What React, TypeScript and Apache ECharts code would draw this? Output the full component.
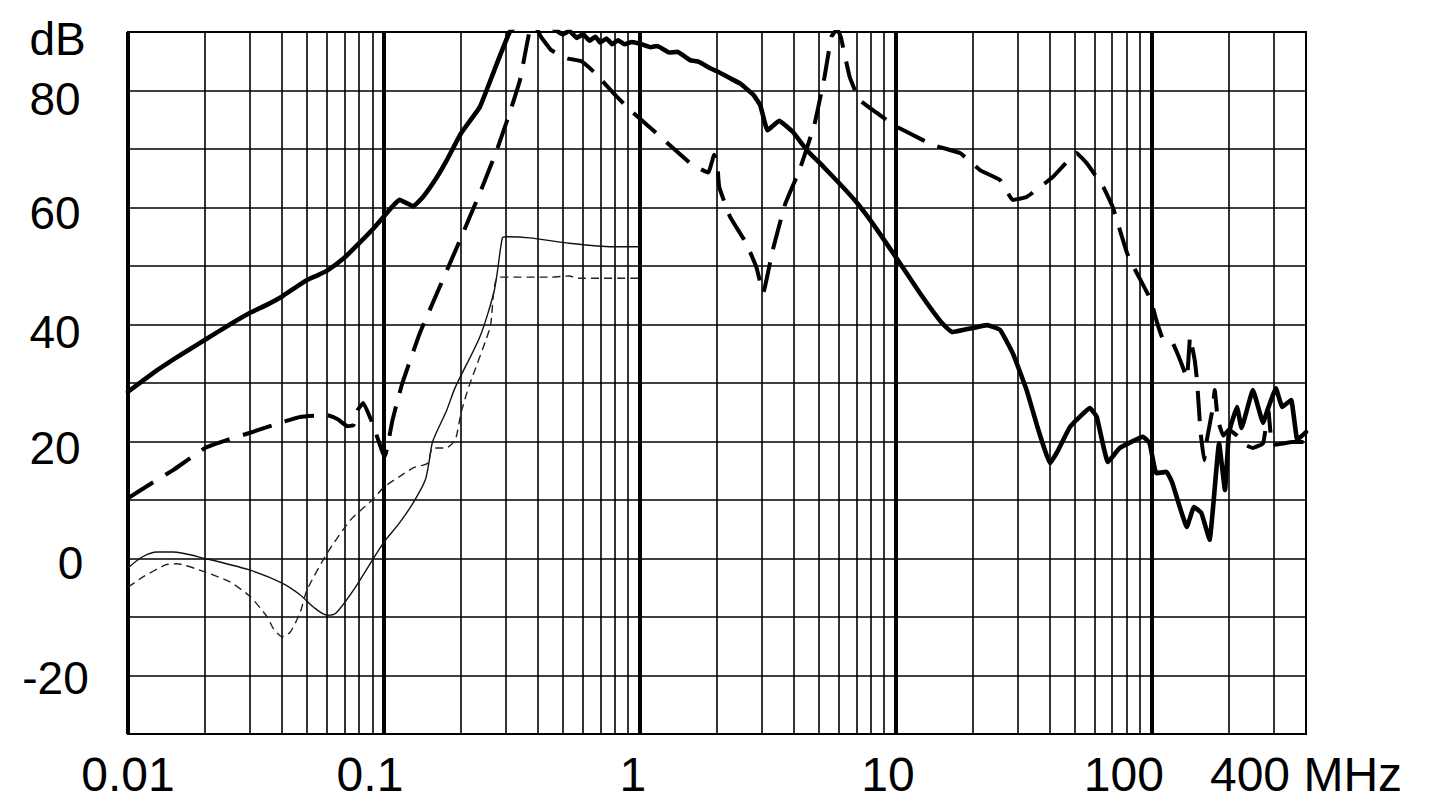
import { useEffect, useRef } from 'react';
import * as echarts from 'echarts';

// ---------- data ----------
const xTickValues = [0.01, 0.1, 1, 10, 100, 400];
const xTickLabels = ['0.01', '0.1', '1', '10', '100', '400 MHz'];

const yTickValues = [90, 80, 60, 40, 20, 0, -20];
const yTickLabels = ['dB', '80', '60', '40', '20', '0', '-20'];

const decadeLinesX = [0.01, 0.1, 1, 10, 100];
const minorLinesX = [
  0.02, 0.03, 0.04, 0.05, 0.06, 0.07, 0.08, 0.09,
  0.2, 0.3, 0.4, 0.5, 0.6, 0.7, 0.8, 0.9,
  2, 3, 4, 5, 6, 7, 8, 9,
  20, 30, 40, 50, 60, 70, 80, 90,
  200, 300,
];

const thickSolid: [number, number][] = [
  [0.01, 28.5], [0.0115, 30.5], [0.013, 32.2], [0.015, 34], [0.0175, 35.8],
  [0.02, 37.4], [0.025, 40], [0.03, 42], [0.035, 43.4], [0.04, 44.8],
  [0.045, 46.3], [0.05, 47.6], [0.055, 48.4], [0.06, 49.2], [0.07, 51.4],
  [0.08, 53.9], [0.09, 56.2], [0.1, 58.5], [0.108, 60.2], [0.115, 61.3],
  [0.122, 60.8], [0.13, 60.2], [0.142, 61.8], [0.16, 65], [0.176, 68.1],
  [0.2, 72.7], [0.237, 77.2], [0.27, 83.5], [0.31, 90], [0.35, 92],
  [0.42, 92], [0.47, 90.3], [0.5, 89.6], [0.53, 90.2], [0.567, 89],
  [0.6, 89.6], [0.635, 88.5], [0.67, 89.2], [0.7, 88.2], [0.74, 88.9],
  [0.78, 87.9], [0.82, 88.6], [0.87, 87.9], [0.93, 88.3], [1.0, 88],
  [1.1, 87.4], [1.17, 87.6], [1.3, 86.5], [1.4, 86.6], [1.57, 85.2],
  [1.7, 84.9], [1.88, 83.8], [2.0, 83.3], [2.25, 82.1], [2.46, 81.2],
  [2.77, 79.3], [2.95, 77.5], [3.15, 73.2], [3.5, 74.8], [3.96, 72.9],
  [4.49, 69.8], [5.2, 67], [6.2, 63.5], [7.04, 60.8], [8.2, 57],
  [10, 51.5], [12.4, 45.4], [15.1, 40.3], [16.6, 38.7], [20, 39.4],
  [22.7, 39.9], [25.5, 39.1], [28.6, 35.1], [32.4, 28.8], [36, 22],
  [40, 16.3], [43, 18.5], [47.9, 22.5], [57.3, 25.7], [60.9, 24.2],
  [67.3, 16.5], [75, 18.9], [92.3, 20.8], [98, 19.7], [104, 14.6],
  [114, 14.8], [120, 13], [137, 5.4], [146, 8.8], [156, 7.8],
  [168, 3.2], [183, 19.7], [193, 11.7], [200, 21.5], [215, 25.9],
  [224, 22.3], [248, 28.8], [272, 23.2], [283, 25.4], [305, 29.1],
  [323, 25.9], [350, 27.1], [370, 20.3], [400, 21.6],
];

const thickDashed: [number, number][] = [
  [0.01, 10.3], [0.0125, 13], [0.015, 15.1], [0.02, 18.9], [0.025, 20.4],
  [0.03, 21.5], [0.04, 23.3], [0.047, 24.2], [0.06, 24.5], [0.066, 23.8],
  [0.072, 22.6], [0.076, 22.8], [0.079, 25.4], [0.083, 26.6], [0.09, 23.2],
  [0.099, 18], [0.101, 17.5], [0.108, 23.7], [0.118, 30], [0.138, 38.5],
  [0.165, 46.4], [0.198, 54.4], [0.237, 62.5], [0.276, 69.8], [0.31, 76.2],
  [0.34, 81.8], [0.37, 90], [0.39, 91], [0.41, 89.2], [0.45, 86.9],
  [0.52, 85.5], [0.59, 85], [0.66, 83.2], [0.81, 79], [0.94, 76.2],
  [1.1, 73.6], [1.6, 67.3], [1.85, 66], [1.95, 69], [2.0, 68],
  [2.04, 63.5], [2.25, 58.4], [2.6, 53.9], [2.85, 49.8], [3.03, 45.4],
  [3.3, 52.7], [3.7, 60.7], [4.2, 66.4], [4.8, 74.1], [5.26, 82.3],
  [5.6, 89.2], [5.9, 90.5], [6.1, 89], [6.6, 82.3], [7.2, 78.4],
  [8.4, 76.2], [9.8, 74.1], [11.3, 72.7], [13.9, 70.7], [17.8, 69.3],
  [21.3, 66.4], [25.5, 64.7], [28.6, 61.3], [32.4, 61.8], [41, 65.2],
  [50.7, 69.3], [55.6, 67.6], [64.6, 63.5], [70.4, 60], [80, 52.2],
  [87.3, 48.8], [99, 44.2], [104, 40.8], [110, 37.7], [120, 37],
  [129, 33.9], [137, 30.9], [141, 37.9], [147, 33.9], [150, 30.5],
  [155, 21.5], [160, 16.8], [164, 20.3], [173, 25.8], [176, 28.8],
  [181, 23.7], [190, 21], [200, 22], [215, 21], [230, 19.5],
  [248, 18.9], [272, 19.7], [285, 25.4], [295, 19.4], [320, 19.6],
  [355, 19.9], [400, 19.9],
];

const thinSolid: [number, number][] = [
  [0.01, -1.6], [0.0114, 0.3], [0.013, 1.1], [0.015, 1.1], [0.02, 0],
  [0.03, -2], [0.04, -4.2], [0.047, -6.2], [0.053, -8.3], [0.06, -9.7],
  [0.065, -9.3], [0.076, -5.4], [0.09, -0.3], [0.1, 2.8], [0.115, 6.1],
  [0.13, 9.5], [0.145, 13.4], [0.15, 16.5], [0.155, 20], [0.176, 25.4],
  [0.19, 29.3], [0.237, 37.9], [0.27, 45.9], [0.29, 54.8], [0.3, 55],
  [0.37, 54.8], [0.53, 53.9], [0.78, 53.3], [1.0, 53.3],
];

const thinDashed: [number, number][] = [
  [0.01, -4.9], [0.0114, -3.2], [0.014, -1.1], [0.0155, -0.9], [0.02, -2.3],
  [0.025, -4], [0.03, -6.5], [0.035, -10], [0.037, -12], [0.04, -13.4],
  [0.043, -12.6], [0.047, -9.3], [0.05, -5.4], [0.06, 0.9], [0.074, 6.6],
  [0.09, 10], [0.1, 12.2], [0.115, 14], [0.13, 15.5], [0.148, 16.3],
  [0.155, 18.9], [0.175, 18.9], [0.19, 20.3], [0.2, 24.9], [0.215, 29.5],
  [0.26, 39.6], [0.28, 48.1], [0.45, 48.1], [0.53, 48.3], [0.57, 47.9],
  [1.0, 47.9],
];

// ---------- style ----------
const FONT = 'Liberation Sans, Arial, Helvetica, sans-serif';
const X_FONT = 48;
const Y_FONT = 46;
// label nudges (padding in px) [top, right, bottom, left]
const xLabelPad: [number, number, number, number][] = [
  [0, 0, 0, 0], [0, 28, 0, 0], [0, 14, 0, 0], [0, 16, 0, 0], [0, 56, 0, 0], [0, 0, 0, 0],
];
const yLabelPad: [number, number, number, number][] = [
  [14, 0, 0, 5], [17, 0, 0, 0], [10, 0, 0, 0], [15, 0, 0, 0], [13, 0, 0, 0], [8, 0, 0, 31], [5, 0, 0, 1],
];

function findIdx(list: number[], v: number, log: boolean) {
  return list.findIndex((t) =>
    log ? Math.abs(Math.log10(t) - Math.log10(v)) < 0.005 : Math.abs(t - v) < 1e-6,
  );
}

export default function App() {
  const ref = useRef<HTMLDivElement>(null);

  useEffect(() => {
    if (!ref.current) return;
    const chart = echarts.init(ref.current, undefined, { renderer: 'svg' });

    const xRich: Record<string, any> = {};
    xLabelPad.forEach((p, i) => {
      xRich['x' + i] = { fontSize: X_FONT, fontFamily: FONT, color: '#000', padding: p };
    });
    const yRich: Record<string, any> = {};
    yLabelPad.forEach((p, i) => {
      yRich['y' + i] = { fontSize: Y_FONT, fontFamily: FONT, color: '#000', padding: p };
    });

    const lineBase = {
      type: 'line' as const,
      showSymbol: false,
      symbol: 'none',
      silent: true,
      clip: true,
      z: 5,
      emphasis: { disabled: true },
    };

    chart.setOption({
      animation: false,
      backgroundColor: '#fff',
      grid: {
        left: 128,
        right: 125,
        top: 32,
        bottom: 75,
        show: true,
        borderColor: '#000',
        borderWidth: 2,
        backgroundColor: 'transparent',
      },
      xAxis: {
        type: 'log',
        logBase: 10,
        min: 0.01,
        max: 400,
        axisLine: { show: false },
        axisTick: { show: false },
        splitLine: { show: false },
        minorTick: { show: false },
        minorSplitLine: { show: false },
        axisLabel: {
          show: true,
          margin: 16,
          interval: 0,
          showMinLabel: true,
          showMaxLabel: true,
          hideOverlap: false,
          fontSize: X_FONT,
          fontFamily: FONT,
          color: '#000',
          formatter: (v: number) => {
            const i = findIdx(xTickValues, v, true);
            return i < 0 ? '' : `{x${i}|${xTickLabels[i]}}`;
          },
          rich: xRich,
        },
      },
      yAxis: {
        type: 'value',
        min: -30,
        max: 90,
        interval: 10,
        axisLine: { show: false },
        axisTick: { show: false },
        splitLine: { show: true, lineStyle: { color: '#000', width: 1.6 } },
        axisLabel: {
          show: true,
          margin: 73,
          align: 'center',
          hideOverlap: false,
          fontSize: Y_FONT,
          fontFamily: FONT,
          color: '#000',
          showMinLabel: true,
          showMaxLabel: true,
          formatter: (v: number) => {
            const i = findIdx(yTickValues, v, false);
            return i < 0 ? '' : `{y${i}|${yTickLabels[i]}}`;
          },
          rich: yRich,
        },
      },
      series: [
        {
          type: 'line',
          data: [],
          silent: true,
          z: 1,
          markLine: {
            silent: true,
            symbol: ['none', 'none'],
            label: { show: false },
            emphasis: { disabled: true },
            animation: false,
            lineStyle: { color: '#000', width: 1.6, type: 'solid' },
            data: [
              ...minorLinesX.map((v) => ({ xAxis: v })),
              ...decadeLinesX.map((v) => ({
                xAxis: v,
                lineStyle: { color: '#000', width: 4, type: 'solid' },
              })),
            ],
          },
        },
        {
          ...lineBase,
          name: 'thin solid',
          data: thinSolid,
          smooth: 0.25,
          lineStyle: { color: '#111', width: 1.4, type: 'solid' },
        },
        {
          ...lineBase,
          name: 'thin dashed',
          data: thinDashed,
          smooth: 0.2,
          lineStyle: { color: '#222', width: 1.4, type: [8, 5] },
        },
        {
          ...lineBase,
          name: 'thick dashed',
          data: thickDashed,
          smooth: 0.1,
          lineStyle: { color: '#000', width: 4, type: [30, 14], cap: 'butt', join: 'round' },
        },
        {
          ...lineBase,
          name: 'thick solid',
          data: thickSolid,
          smooth: 0.1,
          lineStyle: { color: '#000', width: 4.6, type: 'solid', cap: 'round', join: 'round' },
        },
      ],
    });

    return () => chart.dispose();
  }, []);

  return (
    <div
      ref={ref}
      style={{ position: 'fixed', left: 0, top: 0, width: 1431, height: 809, background: '#fff' }}
    />
  );
}
